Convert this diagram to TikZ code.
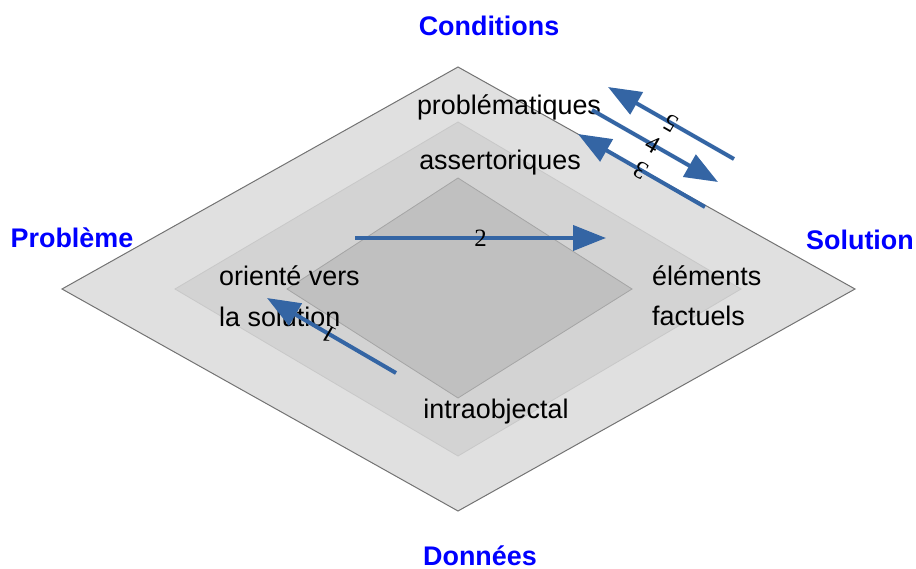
\documentclass[tikz,border=0pt]{standalone}
\usepackage{fontspec}
\setmainfont{Liberation Sans}
\newfontfamily\numfont{Liberation Serif}
\usetikzlibrary{arrows.meta}
\definecolor{outerfill}{RGB}{224,224,224}
\definecolor{midfill}{RGB}{211,211,211}
\definecolor{innerfill}{RGB}{192,192,192}
\definecolor{outerline}{RGB}{115,115,115}
\definecolor{midline}{RGB}{200,200,200}
\definecolor{innerline}{RGB}{165,165,165}
\definecolor{arrowblue}{RGB}{52,101,164}
\definecolor{headblue}{RGB}{0,0,255}
\begin{document}
\begin{tikzpicture}[x=1bp,y=-1bp,
  corner/.style={font=\fontsize{27}{27}\selectfont\bfseries,text=headblue,inner sep=0pt,anchor=base},
  lbl/.style={font=\fontsize{27}{27}\selectfont,text=black,inner sep=0pt},
  num/.style={font=\numfont\fontsize{25}{25}\selectfont,text=black,inner sep=0pt,sloped,allow upside down},
  bluearrow/.style={draw=arrowblue,line width=4bp,-{Triangle[length=33bp,width=25bp]}}
]
\useasboundingbox (0,0) rectangle (916,569);
% diamonds
\filldraw[fill=outerfill,draw=outerline,line width=1bp] (458,67) -- (855,289) -- (458,511) -- (62,289) -- cycle;
\filldraw[fill=midfill,draw=midline,line width=0.8bp] (458,122) -- (741,289) -- (458,456) -- (175,289) -- cycle;
\filldraw[fill=innerfill,draw=innerline,line width=0.8bp] (458,178) -- (632,289) -- (458,398) -- (287,289) -- cycle;
% corner labels
\node[corner] (cond) at (489,36) {Conditions};
\node[corner] (prob) at (72,248) {Problème};
\node[corner] (sol) at (860,250) {Solution};
\node[corner] (donn) at (480,565) {Données};
% level labels
\node[lbl,anchor=base] (probl) at (509,115) {problématiques};
\node[lbl,anchor=base] (asser) at (500,170) {assertoriques};
\node[lbl,anchor=base] (intra) at (496,418) {intraobjectal};
\node[lbl,anchor=base west] (orient) at (219,285) {orienté vers};
\node[lbl,anchor=base west] (lasol) at (219,326) {la solution};
\node[lbl,anchor=base west] (elem) at (652,285) {éléments};
\node[lbl,anchor=base west] (fact) at (652,325) {factuels};
% arrow end points
\coordinate (a1s) at (396,373); \coordinate (a1e) at (267,298);
\coordinate (a2s) at (355,238); \coordinate (a2e) at (606,238);
\coordinate (a3s) at (705,207); \coordinate (a3e) at (578,134);
\coordinate (a4s) at (592,110); \coordinate (a4e) at (718,182);
\coordinate (a5s) at (734,159); \coordinate (a5e) at (608,87);
% arrows
\draw[bluearrow] (a1s) -- node[num,pos=0.52] {1} (a1e);
\draw[bluearrow] (a2s) -- node[num,pos=0.5] {2} (a2e);
\draw[bluearrow] (a3s) -- node[num,pos=0.5] {3} (a3e);
\draw[bluearrow] (a4s) -- node[num,pos=0.48] {4} (a4e);
\draw[bluearrow] (a5s) -- node[num,pos=0.5] {5} (a5e);
\end{tikzpicture}
\end{document}
